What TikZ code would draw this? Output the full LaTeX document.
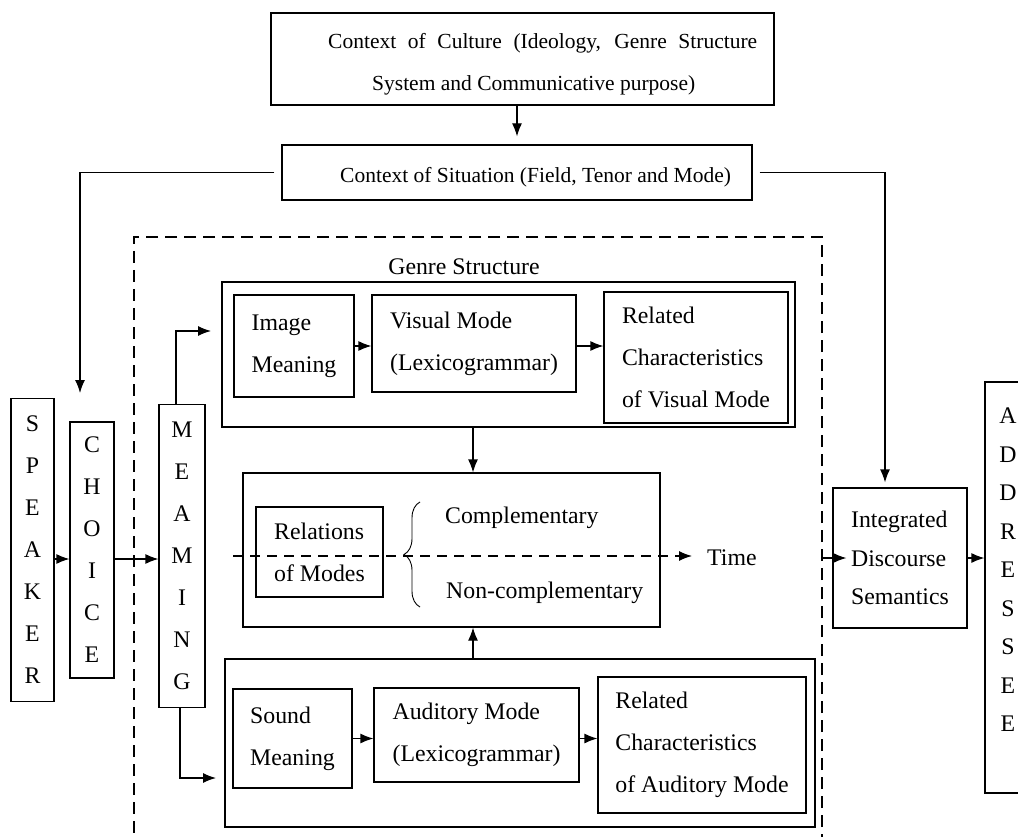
\documentclass[tikz,border=0pt]{standalone}
\usepackage{fontspec}
\setmainfont{Liberation Serif}
\usetikzlibrary{arrows.meta,decorations.pathreplacing,calc}
\begin{document}
\begin{tikzpicture}[x=1pt,y=-1pt,
  every node/.style={font=\fontsize{23.8}{42}\selectfont},
  ln/.style={line width=1.2pt},
  frame/.style={draw, line width=1.2pt, inner sep=0pt},
  bx/.style={draw, line width=1.2pt, inner sep=0pt, align=left},
  vbox/.style={draw, line width=1.2pt, inner sep=0pt, align=center},
  lbl/.style={inner sep=0pt, anchor=west},
  toptxt/.style={inner sep=0pt, anchor=west, font=\fontsize{21.5}{26}\selectfont},
  arr/.style={line width=1.2pt, -{Latex[length=13pt,width=10pt]}},
  dsh/.style={line width=1.2pt, dash pattern=on 12pt off 7pt},
  tdsh/.style={line width=1.2pt, dash pattern=on 10pt off 7pt, -{Latex[length=13pt,width=10pt]}},
]
\useasboundingbox (0,0) rectangle (1018,837);
\clip (0,0) rectangle (1018,837);
\fill[white] (0,0) rectangle (1018,837);

% context boxes
\node[frame, minimum width=503, minimum height=92] (culture) at (522.5,59) {};
\node[toptxt] (cult1) at (328,43) {\makebox[429pt][s]{Context of Culture (Ideology, Genre Structure}};
\node[toptxt] (cult2) at (372,85) {System and Communicative purpose)};
\node[frame, minimum width=470, minimum height=55] (situation) at (517,172.5) {};
\node[toptxt] (sittxt) at (340,177) {Context of Situation (Field, Tenor and Mode)};

% dashed genre frame
\node[draw, dsh, inner sep=0pt, minimum width=688, minimum height=643] (genre) at (478,558.5) {};
\node (gs) at (464,267) {Genre Structure};

% vertical boxes
\node[vbox, minimum width=43, minimum height=303] (speaker) at (32.5,550) {S\\P\\E\\A\\K\\E\\R};
\node[vbox, minimum width=44, minimum height=256] (choice) at (92,550) {C\\H\\O\\I\\C\\E};
\node[vbox, minimum width=46, minimum height=303] (meaning) at (182,556) {M\\E\\A\\M\\I\\N\\G};
\node[frame, minimum width=46, minimum height=411] (addressee) at (1008,587.5) {};
\node[inner sep=0pt, align=center, font=\fontsize{23.8}{38.5}\selectfont] (addrtxt) at (1008,570) {A\\D\\D\\R\\E\\S\\S\\E\\E};

% visual part
\node[frame, minimum width=573, minimum height=145] (visual) at (508.5,354.5) {};
\node[bx, minimum width=120, minimum height=102] (image) at (294,346) {Image\\Meaning};
\node[bx, minimum width=204, minimum height=97] (vmode) at (474,343.5) {Visual Mode\\(Lexicogrammar)};
\node[bx, minimum width=184, minimum height=131] (relvis) at (696,357.5) {Related\\Characteristics\\of Visual Mode};

% relations part
\node[frame, minimum width=417, minimum height=154] (relations) at (451.5,550) {};
\node[bx, minimum width=127, minimum height=90] (modes) at (319.5,552) {Relations\\of Modes};
\node[lbl] (comp) at (445,518) {Complementary};
\node[lbl] (noncomp) at (446,593) {Non-complementary};
\coordinate (brb) at (420,607);
\coordinate (brt) at (420,502);
\draw[line width=0.9pt, decorate, decoration={brace, amplitude=16pt}] (brb) -- (brt);

% auditory part
\node[frame, minimum width=590, minimum height=168] (auditory) at (520,743) {};
\node[bx, minimum width=119, minimum height=99] (sound) at (292.5,738.5) {Sound\\Meaning};
\node[bx, minimum width=205, minimum height=94] (amode) at (476.5,735) {Auditory Mode\\(Lexicogrammar)};
\node[bx, minimum width=208, minimum height=136] (relaud) at (702,745) {Related\\Characteristics\\of Auditory Mode};

% integrated
\node[bx, minimum width=134, minimum height=140, font=\fontsize{23.8}{38.5}\selectfont] (integrated) at (900,558) {Integrated\\Discourse\\Semantics};

% time line
\coordinate (tstart) at (233,556);
\coordinate (ttip) at (692,556);
\draw[tdsh] (tstart) -- (ttip);
\node[lbl] (time) at (707,558) {Time};

% connectors
\draw[arr, shorten >=8pt] (culture.south -| situation.north) -- (situation.north);
\coordinate (ltip) at (80,393);
\draw[arr, shorten <=7pt] (situation.west) -| (ltip);
\coordinate (rx) at (885,0);
\draw[arr, shorten <=7pt, shorten >=5pt] (situation.east) -| (integrated.north -| rx);

\coordinate (ay) at (0,559);
\draw[arr] (speaker.east |- ay) -- (choice.west |- ay);
\draw[arr] (choice.east |- ay) -- (meaning.west |- ay);

\coordinate (mtop) at (176,0);
\coordinate (vt) at (211,331);
\draw[arr] (meaning.north -| mtop) |- (vt);
\coordinate (mbot) at (180,0);
\coordinate (at) at (216,778);
\draw[arr] (meaning.south -| mbot) |- (at);

\draw[arr] (image.east) -- (image.east -| vmode.west);
\draw[arr] (image.east -| vmode.east) -- (image.east -| relvis.west);
\draw[arr] (sound.east) -- (sound.east -| amode.west);
\draw[arr] (sound.east -| amode.east) -- (sound.east -| relaud.west);

\coordinate (dx) at (473,0);
\draw[arr] (visual.south -| dx) -- (relations.north -| dx);
\draw[arr] (auditory.north -| dx) -- (relations.south -| dx);

\draw[arr] ([xshift=-9pt]integrated.west) -- ([xshift=14pt]integrated.west);
\draw[arr] (integrated.east) -- (integrated.east -| addressee.west);
\end{tikzpicture}
\end{document}
